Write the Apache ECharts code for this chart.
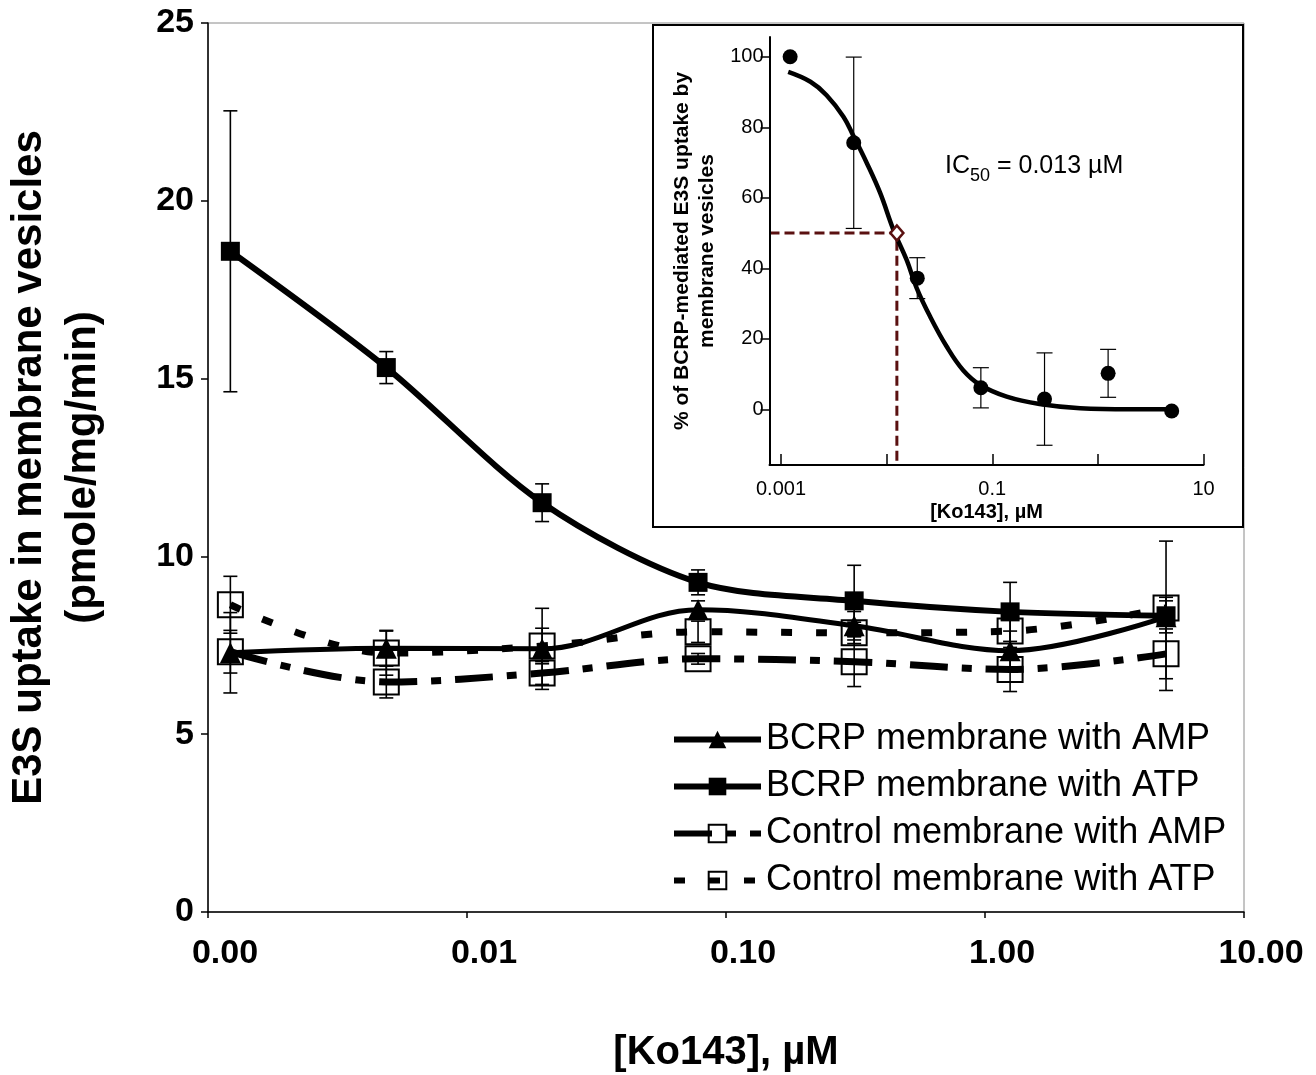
<!DOCTYPE html>
<html>
<head>
<meta charset="utf-8">
<script src="https://cdn.jsdelivr.net/npm/echarts@6/dist/echarts.min.js"></script>
<style>
html,body{margin:0;padding:0;background:#fff;}
#chart{width:1316px;height:1075px;}
</style>
</head>
<body>
<div id="chart"></div>
<script>
// ---------- Data ----------
// Ko143 concentrations (µM)
const conc = [0.00122, 0.00488, 0.0195, 0.078, 0.3125, 1.25, 5];

// Main chart: E3S uptake (pmole/mg/min)
const bcrpAMP      = [7.29, 7.42, 7.40, 8.50, 8.05, 7.35, 8.30];
const bcrpAMPErr   = [1.13, 0.50, 1.14, 0.25, 0.40, 0.55, 0.45];
const bcrpATP      = [18.58, 15.31, 11.51, 9.27, 8.75, 8.44, 8.33];
const bcrpATPErr   = [3.95, 0.45, 0.53, 0.35, 1.00, 0.83, 2.10];
const ctrlAMP      = [7.32, 6.47, 6.72, 7.12, 7.04, 6.82, 7.26];
const ctrlAMPErr   = [0.60, 0.45, 0.32, 0.15, 0.70, 0.62, 0.70];
const ctrlATP      = [8.64, 7.28, 7.48, 7.88, 7.85, 7.90, 8.55];
const ctrlATPErr   = [0.80, 0.62, 0.50, 0.30, 0.30, 0.55, 0.30];

// Inset: % of BCRP-mediated E3S uptake
const insetPct     = [100, 75.6, 37.2, 6.1, 2.9, 10.2, -0.5];
const insetErr     = [0, 24.3, 5.8, 5.7, 13.1, 6.8, 0];
// fitted curve
const curveX = [0.00117, 0.0019, 0.0027, 0.0039, 0.0048, 0.0065, 0.0087, 0.0116, 0.0155, 0.0193, 0.0258, 0.037, 0.053, 0.077, 0.137, 0.28, 0.68, 2.0, 4.5];
const curveY = [95.7, 92.9, 89.1, 83.0, 77.8, 69.8, 61.3, 50.9, 42.3, 34.3, 26.3, 17.8, 11.1, 6.9, 3.6, 1.5, 0.3, 0, 0];
const ic50 = 0.0125;
const halfPct = 50;

// Axis tick labels
const mainYTicks = [0, 5, 10, 15, 20, 25];
const insetYTicks = [0, 20, 40, 60, 80, 100];
const insetXMin = 0.000778, insetXMax = 10;
const insetYMin = -15.8, insetYMax = 105.6;

const legendNames = ['BCRP membrane with AMP', 'BCRP membrane with ATP', 'Control membrane with AMP', 'Control membrane with ATP'];

// ---------- Build ----------
const FONT = "'Liberation Sans', Arial, sans-serif";
const zip = (xs, ys) => xs.map((x, i) => [x, ys[i]]);
const errData = (xs, ys, es) => xs.map((x, i) => [x, ys[i] - es[i], ys[i] + es[i]]).filter((d, i) => es[i] > 0);

function errorSeries(data, xi, yi, cap, lw, z) {
  return {
    type: 'custom', xAxisIndex: xi, yAxisIndex: yi, z: z || 3, silent: true,
    encode: { x: 0, y: [1, 2] },
    data: data,
    renderItem: function (params, api) {
      const x = api.value(0);
      const pHi = api.coord([x, api.value(2)]);
      const pLo = api.coord([x, api.value(1)]);
      const st = { stroke: '#000', lineWidth: lw };
      return {
        type: 'group',
        children: [
          { type: 'line', shape: { x1: pHi[0], y1: pHi[1], x2: pLo[0], y2: pLo[1] }, style: st },
          { type: 'line', shape: { x1: pHi[0] - cap, y1: pHi[1], x2: pHi[0] + cap, y2: pHi[1] }, style: st },
          { type: 'line', shape: { x1: pLo[0] - cap, y1: pLo[1], x2: pLo[0] + cap, y2: pLo[1] }, style: st }
        ]
      };
    }
  };
}

const chart = echarts.init(document.getElementById('chart'), null, { renderer: 'canvas' });

const openSq = { color: 'rgba(0,0,0,0)', borderColor: '#000', borderWidth: 2 };

const option = {
  backgroundColor: '#fff',
  animation: false,
  textStyle: { fontFamily: FONT },
  grid: [
    { left: 208, right: 72, top: 23, bottom: 163, show: true, borderColor: '#8a8a8a', borderWidth: 1,
      backgroundColor: 'transparent', containLabel: false, outerBoundsMode: 'none' },
    { left: 769.5, top: 37, width: 434, height: 428, show: false, containLabel: false, outerBoundsMode: 'none' }
  ],
  xAxis: [
    {
      type: 'log', gridIndex: 0, min: 0.001, max: 10, logBase: 10,
      axisLine: { onZero: false, lineStyle: { color: '#000', width: 1.5 } },
      axisTick: { inside: false, length: 6, lineStyle: { color: '#000', width: 1.5 } },
      splitLine: { show: false },
      axisLabel: {
        color: '#000', fontSize: 34, fontWeight: 'bold', fontFamily: FONT, margin: 25,
        padding: [0, 0, 0, 34],
        formatter: v => Number(v).toFixed(2)
      },
      name: '[Ko143], µM', nameLocation: 'middle', nameGap: 121,
      nameTextStyle: { color: '#000', fontSize: 40, fontWeight: 'bold', fontFamily: FONT }
    },
    {
      type: 'log', gridIndex: 1, min: insetXMin, max: insetXMax, logBase: 10, z: 6,
      axisLine: { onZero: false, lineStyle: { color: '#000', width: 2 } },
      axisTick: { inside: true, length: 11, lineStyle: { color: '#000', width: 1.5 } },
      splitLine: { show: false },
      axisLabel: {
        color: '#000', fontSize: 20, fontFamily: FONT, margin: 14,
        formatter: function (v) {
          const e = Math.log10(v);
          const r = Math.round(e);
          if (Math.abs(e - r) > 1e-6) return '';
          if (Math.abs(r) % 2 !== 1) return '';
          return String(Number(Number(v).toPrecision(6)));
        }
      },
      name: '[Ko143], µM', nameLocation: 'middle', nameGap: 37,
      nameTextStyle: { color: '#000', fontSize: 20, fontWeight: 'bold', fontFamily: FONT }
    }
  ],
  yAxis: [
    {
      type: 'value', gridIndex: 0, min: 0, max: 25, interval: 5,
      axisLine: { show: true, onZero: false, lineStyle: { color: '#000', width: 1.5 } },
      axisTick: { show: true, inside: false, length: 7, lineStyle: { color: '#000', width: 1.5 } },
      splitLine: { show: false },
      axisLabel: { color: '#000', fontSize: 34, fontWeight: 'bold', fontFamily: FONT, margin: 14,
        formatter: v => (mainYTicks.indexOf(v) >= 0 ? String(v) : '') },
      name: 'E3S uptake in membrane vesicles\n(pmole/mg/min)', nameLocation: 'middle', nameGap: 98,
      nameTextStyle: { color: '#000', fontSize: 42, fontWeight: 'bold', fontFamily: FONT, lineHeight: 54 }
    },
    {
      type: 'value', gridIndex: 1, min: insetYMin, max: insetYMax, z: 6,
      axisLine: { show: true, onZero: false, lineStyle: { color: '#000', width: 2 } },
      axisTick: { show: true, inside: false, length: 9, lineStyle: { color: '#000', width: 1.5 }, customValues: insetYTicks },
      splitLine: { show: false },
      axisLabel: { color: '#000', fontSize: 20, fontFamily: FONT, margin: 6, customValues: insetYTicks,
        formatter: v => (insetYTicks.indexOf(Math.round(v * 1000) / 1000) >= 0 ? String(Math.round(v)) : '') },
      name: '% of BCRP-mediated E3S uptake by\nmembrane vesicles', nameLocation: 'middle', nameGap: 50,
      nameTextStyle: { color: '#000', fontSize: 21, fontWeight: 'bold', fontFamily: FONT, lineHeight: 25 }
    }
  ],
  legend: {
    show: true, orient: 'vertical', left: 666, top: 716,
    itemWidth: 87, itemHeight: 22, itemGap: 10,
    data: legendNames,
    lineStyle: { width: 6 },
    textStyle: { color: '#000', fontSize: 36, fontFamily: FONT, lineHeight: 37, padding: [0, 0, 0, 0] }
  },
  graphic: [
    {
      type: 'rect', z: 1, silent: true,
      shape: { x: 653, y: 25, width: 590, height: 502 },
      style: { fill: '#fff', stroke: '#000', lineWidth: 2 }
    },
    {
      type: 'text', z: 10, silent: true, left: 945, top: 154,
      style: {
        text: '{a|IC}{s|50}{a| = 0.013 µM}',
        fill: '#000',
        rich: {
          a: { fontSize: 25, fontFamily: FONT, lineHeight: 38, verticalAlign: 'middle', fill: '#000' },
          s: { fontSize: 18, fontFamily: FONT, lineHeight: 38, verticalAlign: 'bottom', fill: '#000' }
        }
      }
    }
  ],
  series: [
    // main chart
    {
      name: 'Control membrane with ATP', type: 'line', xAxisIndex: 0, yAxisIndex: 0, z: 2,
      data: zip(conc, ctrlATP), smooth: 0.35,
      symbol: 'rect', symbolSize: 25, itemStyle: openSq,
      lineStyle: { color: '#000', width: 7, type: [11, 24], cap: 'butt' }
    },
    {
      name: 'Control membrane with AMP', type: 'line', xAxisIndex: 0, yAxisIndex: 0, z: 2,
      data: zip(conc, ctrlAMP), smooth: 0.35,
      symbol: 'rect', symbolSize: 25, itemStyle: openSq,
      lineStyle: { color: '#000', width: 7, type: [38, 14, 10, 14], cap: 'butt' }
    },
    {
      name: 'BCRP membrane with AMP', type: 'line', xAxisIndex: 0, yAxisIndex: 0, z: 4,
      data: zip(conc, bcrpAMP), smooth: 0.35,
      symbol: 'triangle', symbolSize: 21, itemStyle: { color: '#000' },
      lineStyle: { color: '#000', width: 5 }
    },
    {
      name: 'BCRP membrane with ATP', type: 'line', xAxisIndex: 0, yAxisIndex: 0, z: 4,
      data: zip(conc, bcrpATP), smooth: 0.3,
      symbol: 'rect', symbolSize: 19, itemStyle: { color: '#000' },
      lineStyle: { color: '#000', width: 6 }
    },
    errorSeries(errData(conc, bcrpATP, bcrpATPErr), 0, 0, 7, 1.6, 3),
    errorSeries(errData(conc, bcrpAMP, bcrpAMPErr), 0, 0, 7, 1.6, 3),
    errorSeries(errData(conc, ctrlAMP, ctrlAMPErr), 0, 0, 7, 1.6, 3),
    errorSeries(errData(conc, ctrlATP, ctrlATPErr), 0, 0, 7, 1.6, 3),

    // inset
    {
      name: 'IC50 guide', type: 'line', xAxisIndex: 1, yAxisIndex: 1, z: 5,
      data: [[insetXMin, halfPct], [ic50, halfPct], [ic50, insetYMin]],
      symbol: 'none', silent: true,
      lineStyle: { color: '#5a1010', width: 3, type: [10, 5] }
    },
    {
      name: 'fit', type: 'line', xAxisIndex: 1, yAxisIndex: 1, z: 6,
      data: zip(curveX, curveY), smooth: 0.4, symbol: 'none', silent: true,
      lineStyle: { color: '#000', width: 4.5 }
    },
    errorSeries(errData(conc, insetPct, insetErr), 1, 1, 8, 1.2, 6),
    {
      name: 'inset points', type: 'scatter', xAxisIndex: 1, yAxisIndex: 1, z: 7,
      data: zip(conc, insetPct), symbol: 'circle', symbolSize: 15, silent: true,
      itemStyle: { color: '#000', opacity: 1 }
    },
    {
      name: 'IC50 point', type: 'scatter', xAxisIndex: 1, yAxisIndex: 1, z: 8,
      data: [[ic50, halfPct]], symbol: 'diamond', symbolSize: [13, 15], silent: true,
      itemStyle: { color: '#fff', borderColor: '#5a1010', borderWidth: 2.5, opacity: 1 }
    }
  ]
};

chart.setOption(option);
</script>
</body>
</html>
